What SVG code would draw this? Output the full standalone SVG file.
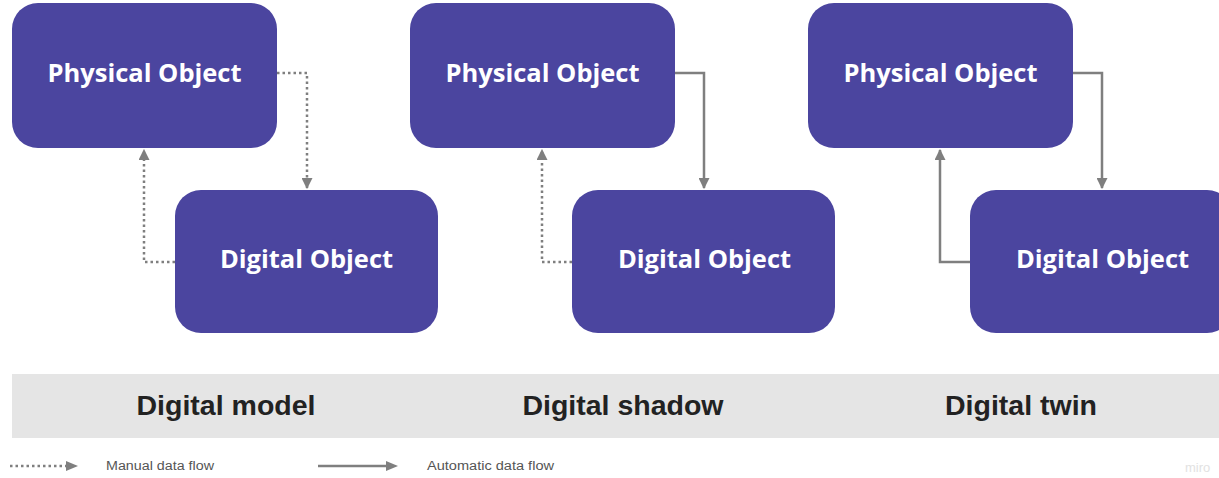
<svg xmlns="http://www.w3.org/2000/svg" width="1219" height="478" viewBox="0 0 1219 478">
<style>
.box{fill:#4b459f;}
.lbl{font-family:"Open Sans","Noto Sans",sans-serif;font-weight:700;font-size:25.5px;fill:#ffffff;text-anchor:middle;}
.band{fill:#e5e5e5;}
.cap{font-family:"Liberation Sans",Arial,sans-serif;font-weight:700;font-size:28.5px;fill:#222222;text-anchor:middle;}
.solid{fill:none;stroke:#7f7f7f;stroke-width:2.5;}
.dot{fill:none;stroke:#7f7f7f;stroke-width:2.5;stroke-dasharray:2.5 3;}
.leg{font-family:"Liberation Sans",Arial,sans-serif;font-size:12px;fill:#555555;}
</style>
<defs>
<marker id="ah" viewBox="0 0 10 10" refX="9" refY="5" markerWidth="4.4" markerHeight="4.4" markerUnits="strokeWidth" orient="auto">
<path d="M0,0 L10,5 L0,10 Z" fill="#7f7f7f"/>
</marker>
</defs>
<rect width="1219" height="478" fill="#ffffff"/>

<g id="connectors">
<path class="dot" d="M277,73 H307 V188" marker-end="url(#ah)"/>
<path class="dot" d="M175,262 H144 V150" marker-end="url(#ah)"/>
<path class="solid" d="M675,73 H704 V188" marker-end="url(#ah)"/>
<path class="dot" d="M572,262 H542 V150" marker-end="url(#ah)"/>
<path class="solid" d="M1073,73 H1102 V188" marker-end="url(#ah)"/>
<path class="solid" d="M970,262 H940 V150" marker-end="url(#ah)"/>
</g>

<g id="physical-model"><rect class="box" x="12" y="3" width="265" height="145" rx="26"/><text class="lbl" x="144.5" y="82">Physical Object</text></g>
<g id="digital-model"><rect class="box" x="175" y="190" width="263" height="143" rx="26"/><text class="lbl" x="306.5" y="268">Digital Object</text></g>
<g id="physical-shadow"><rect class="box" x="410" y="3" width="265" height="145" rx="26"/><text class="lbl" x="542.5" y="82">Physical Object</text></g>
<g id="digital-shadow"><rect class="box" x="572" y="190" width="263" height="143" rx="26"/><text class="lbl" x="704.5" y="268">Digital Object</text></g>
<g id="physical-twin"><rect class="box" x="808" y="3" width="265" height="145" rx="26"/><text class="lbl" x="940.5" y="82">Physical Object</text></g>
<g id="digital-twin"><rect class="box" x="970" y="190" width="263" height="143" rx="26"/><text class="lbl" x="1102.5" y="268">Digital Object</text></g>

<g id="band">
<rect class="band" x="12" y="374" width="1207" height="64"/>
<text class="cap" x="226" y="415">Digital model</text>
<text class="cap" x="623" y="415">Digital shadow</text>
<text class="cap" x="1021" y="415">Digital twin</text>
</g>

<g id="legend">
<path class="dot" d="M10,466 H66"/>
<path d="M66,461 L78,466 L66,471 Z" fill="#7f7f7f"/>
<text class="leg" x="106" y="470" textLength="108" lengthAdjust="spacingAndGlyphs">Manual data flow</text>
<path class="solid" d="M318,466 H388"/>
<path d="M386,461 L398,466 L386,471 Z" fill="#7f7f7f"/>
<text class="leg" x="427" y="470" textLength="127" lengthAdjust="spacingAndGlyphs">Automatic data flow</text>
<text x="1185" y="472" font-family="Liberation Sans, Arial, sans-serif" font-size="13" fill="#e2e2e2">miro</text>
</g>
</svg>
